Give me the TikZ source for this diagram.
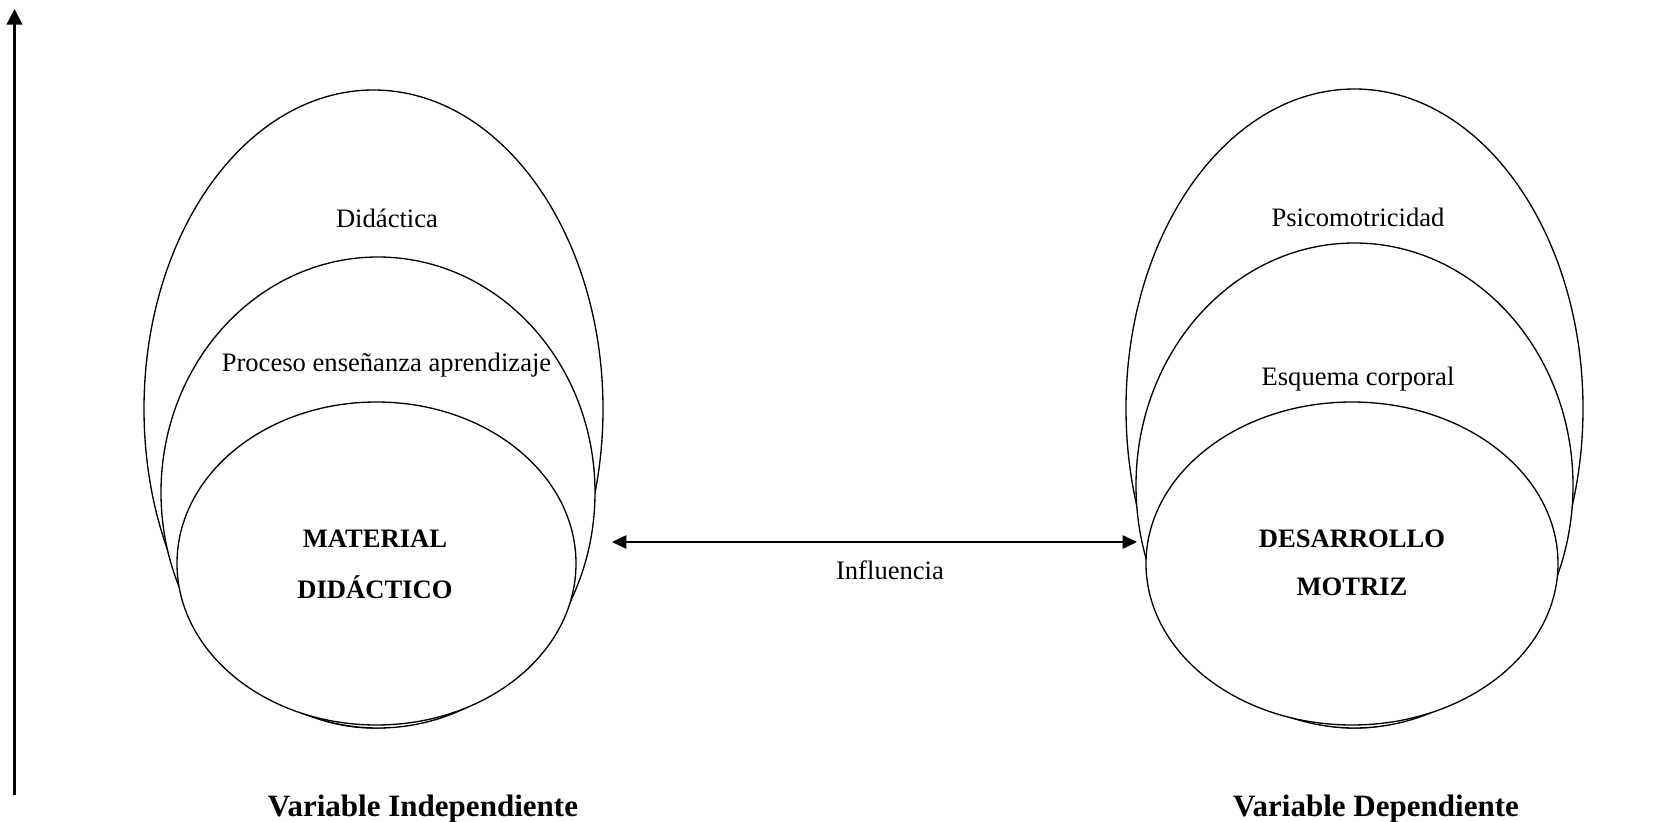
\documentclass[tikz,border=0pt]{standalone}
\usepackage{fontspec}
\setmainfont{Liberation Serif}
\usetikzlibrary{arrows.meta, positioning}

\begin{document}
\begin{tikzpicture}[x=0.451pt, y=-0.451pt,
  txt/.style={font=\fontsize{12}{14}\selectfont, inner sep=0pt},
  core/.style={font=\fontsize{12}{14}\selectfont\bfseries, inner sep=0pt},
  varlabel/.style={font=\fontsize{14}{17}\selectfont\bfseries, inner sep=0pt},
  ring/.style={draw, fill=white, line width=0.6pt}]
  \useasboundingbox (0,0) rectangle (1679,822);

  % vertical axis
  \coordinate (axb) at (14.5,795);
  \coordinate (axt) at (14.5,9);
  \draw[line width=1pt, -{Triangle[length=7pt,width=7pt]}] (axb) -- (axt);

  % independent variable
  \draw[ring] (373.5,409) ellipse [x radius=229.5, y radius=319];
  \draw[ring] (378,492.5) ellipse [x radius=217, y radius=235.5];
  \draw[ring] (376.5,563.5) ellipse [x radius=199.5, y radius=161.5];
  \node[txt] (did) at (387,218) {Didáctica};
  \node[txt] (pea) at (386.5,365) {Proceso enseñanza aprendizaje};
  \node[core] (mat) at (375,539) {MATERIAL};
  \node[core] (mdid) at (375,587) {DIDÁCTICO};
  \node[varlabel] (vi) at (423,809) {Variable Independiente};

  % dependent variable
  \draw[ring] (1354.5,408.5) ellipse [x radius=228.5, y radius=319.5];
  \draw[ring] (1354.5,485.5) ellipse [x radius=218.5, y radius=242.5];
  \draw[ring] (1352,563.5) ellipse [x radius=206, y radius=161.5];
  \node[txt] (psi) at (1358,217) {Psicomotricidad};
  \node[txt] (esq) at (1358,379) {Esquema corporal};
  \node[core] (des) at (1352,539) {DESARROLLO};
  \node[core] (mot) at (1352,587) {MOTRIZ};
  \node[varlabel] (vd) at (1376,809) {Variable Dependiente};

  % influence
  \coordinate (inL) at (612,542);
  \coordinate (inR) at (1137,542);
  \draw[line width=0.9pt, {Triangle[length=6.5pt,width=6pt]}-{Triangle[length=6.5pt,width=6pt]}] (inL) -- (inR);
  \node[txt] (inf) at (890,570) {Influencia};
\end{tikzpicture}
\end{document}
